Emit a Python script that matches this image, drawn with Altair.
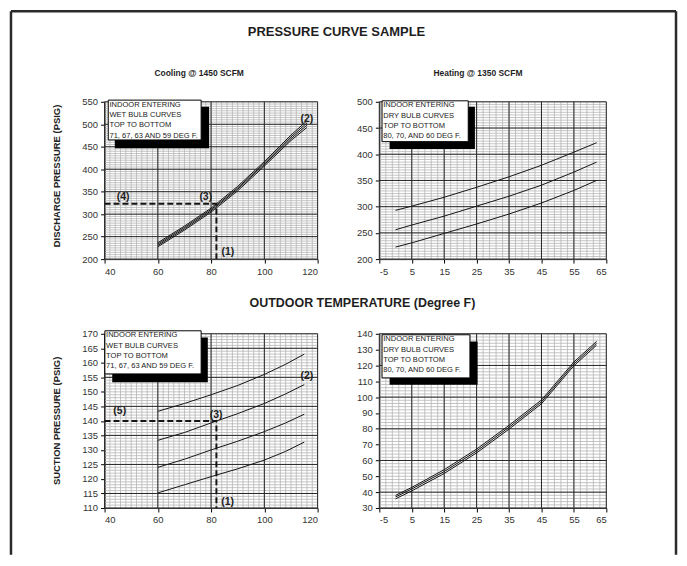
import altair as alt
import pandas as pd

FONT = "Liberation Sans"
INK = "#151515"

# ---------------- data ----------------
# Cooling, discharge pressure (wet bulb 71, 67, 63, 59 F)
cool_dis_x = [60, 70, 80, 90, 100, 110, 116]
cool_dis_71 = [236.5, 273.5, 313.5, 362, 417, 476, 508]
cool_dis_67 = [233.5, 270.5, 310.5, 358.5, 413.5, 472, 503]
cool_dis_63 = [230.5, 267.5, 307.5, 355.5, 410.5, 468, 498]
cool_dis_59 = [227.5, 264.5, 304.5, 352, 407, 464, 493]

# Cooling, suction pressure
cool_suc_x = [60, 70, 80, 90, 100, 108, 115]
cool_suc_71 = [143.3, 146, 149, 152.2, 156, 159.5, 163]
cool_suc_67 = [133.3, 136, 139.3, 142.5, 146, 149.3, 152.5]
cool_suc_63 = [124, 126.8, 130, 133, 136.3, 139.3, 142.3]
cool_suc_59 = [115.2, 118, 120.8, 123.5, 126.5, 129.5, 132.7]

# Heating (dry bulb 80, 70, 60 F)
heat_x = [0, 5, 15, 25, 35, 45, 55, 62]
heat_dis_80 = [293, 301, 318, 337, 357, 379, 404, 422]
heat_dis_70 = [256, 265, 282, 301, 320, 341, 366, 385]
heat_dis_60 = [223, 231, 249, 267, 286, 307, 331, 350]
heat_suc_80 = [38, 43, 54.2, 67.2, 82.2, 98.2, 122.2, 135.2]
heat_suc_70 = [37, 42, 53, 66, 81, 97, 121, 134]
heat_suc_60 = [35.8, 40.8, 51.8, 64.8, 79.8, 95.8, 119.8, 132.8]

# example read-off (dashed guides)
dis_guide_x = [40, 82, 82]
dis_guide_y = [323, 323, 200]
suc_guide_x = [40, 82, 82]
suc_guide_y = [140, 140, 110]

dis_notes = ["(4)", "(3)", "(2)", "(1)"]
dis_notes_x = [47, 78, 116, 86.3]
dis_notes_y = [339, 338, 512, 215]
suc_notes = ["(5)", "(3)", "(2)", "(1)"]
suc_notes_x = [45.7, 81.9, 116, 86.2]
suc_notes_y = [143.4, 141.9, 155.3, 112.2]

wet_box = ["INDOOR ENTERING", "WET BULB CURVES", "TOP TO BOTTOM", "71, 67, 63 AND 59 DEG F."]
dry_box = ["INDOOR ENTERING", "DRY BULB CURVES", "TOP TO BOTTOM", "80, 70, AND 60 DEG F."]

cool_ticks_x = [40, 60, 80, 100, 120]
heat_ticks_x = [-5, 5, 15, 25, 35, 45, 55, 65]
dis_cool_ticks_y = [200, 250, 300, 350, 400, 450, 500, 550]
dis_heat_ticks_y = [200, 250, 300, 350, 400, 450, 500]
suc_cool_ticks_y = list(range(110, 171, 5))
suc_heat_ticks_y = list(range(30, 141, 10))


def series_df(xs, named):
    rows = []
    for name, ys in named:
        for x, y in zip(xs, ys):
            rows.append({"s": name, "x": x, "y": y})
    return pd.DataFrame(rows)


def guide_df(xs, ys):
    return pd.DataFrame({"x": xs, "y": ys, "o": list(range(len(xs)))})


def panel(w, h, xdom, ydom, xticks, yticks, xminor, xmajor, yminor, ymajor,
          curves, box_lines, box_geom, ytitle=None, ytitle_y=0,
          guide=None, notes=None, extras=()):
    xs = alt.Scale(domain=xdom, nice=False, zero=False)
    ys = alt.Scale(domain=ydom, nice=False, zero=False)
    plain = "'' + datum.value"
    xaxis = alt.Axis(values=xticks, title=None, labelExpr=plain)
    if ytitle:
        yaxis = alt.Axis(values=yticks, title=ytitle, titleX=-48, titleY=ytitle_y,
                         titleAngle=270, titleAlign="center", titleBaseline="middle",
                         titleFont=FONT, titleFontSize=9.5, titleFontWeight="bold",
                         titleColor="#222", labelExpr=plain)
    else:
        yaxis = alt.Axis(values=yticks, title=None, labelExpr=plain)

    def X(f):
        return alt.X(f, scale=xs, axis=xaxis)

    def Y(f):
        return alt.Y(f, scale=ys, axis=yaxis)

    layers = []
    layers.append(alt.Chart(pd.DataFrame({"v": xminor})).mark_rule(
        color="#b5b5b5", strokeWidth=0.8).encode(x=X("v:Q")))
    layers.append(alt.Chart(pd.DataFrame({"v": yminor})).mark_rule(
        color="#b5b5b5", strokeWidth=0.8).encode(y=Y("v:Q")))
    layers.append(alt.Chart(pd.DataFrame({"v": xmajor})).mark_rule(
        color="#262626", strokeWidth=1).encode(x=X("v:Q")))
    layers.append(alt.Chart(pd.DataFrame({"v": ymajor})).mark_rule(
        color="#262626", strokeWidth=1).encode(y=Y("v:Q")))

    layers.append(alt.Chart(curves).mark_line(color=INK, strokeWidth=1).encode(
        x=X("x:Q"), y=Y("y:Q"), detail="s:N"))

    if guide is not None:
        layers.append(alt.Chart(guide).mark_line(
            color=INK, strokeWidth=2, strokeDash=[6, 3]).encode(
            x=X("x:Q"), y=Y("y:Q"), order="o:Q"))
    if notes is not None:
        layers.append(alt.Chart(notes).mark_text(
            font=FONT, fontSize=10.5, fontWeight="bold", color="#222").encode(
            x=X("x:Q"), y=Y("y:Q"), text="t:N"))

    bx0, bx1, by0, by1, sx0, sx1, sy0, sy1 = box_geom
    one = pd.DataFrame({"k": [0]})
    layers.append(alt.Chart(one).mark_rect(color="black").encode(
        x=alt.value(sx0), x2=alt.value(sx1), y=alt.value(sy0), y2=alt.value(sy1)))
    layers.append(alt.Chart(one).mark_rect(fill="white", stroke="black", strokeWidth=1).encode(
        x=alt.value(bx0), x2=alt.value(bx1), y=alt.value(by0), y2=alt.value(by1)))
    layers.append(alt.Chart(one).mark_text(
        align="left", baseline="top", font=FONT, fontSize=7.6, lineHeight=10.4,
        color="#222").encode(
        x=alt.value(bx0 + 1.2), y=alt.value(by0 + 0.6), text=alt.value(box_lines)))

    layers.extend(extras)
    return alt.layer(*layers).properties(width=w, height=h)


def text_at(txt, x, y, size, weight="bold"):
    return alt.Chart(pd.DataFrame({"t": [txt]})).mark_text(
        font=FONT, fontSize=size, fontWeight=weight, color="#1e1e1e",
        align="center", baseline="middle").encode(
        x=alt.value(x), y=alt.value(y), text="t:N")


one_row = pd.DataFrame({"k": [0]})
frame_style = dict(color="#2a2a2a", strokeWidth=2.5)
frame = [
    alt.Chart(one_row).mark_rule(**frame_style).encode(
        x=alt.value(-94), y=alt.value(-91), y2=alt.value(455)),
    alt.Chart(one_row).mark_rule(**frame_style).encode(
        x=alt.value(574), y=alt.value(-91), y2=alt.value(455)),
    alt.Chart(one_row).mark_rule(**frame_style).encode(
        x=alt.value(-94), x2=alt.value(574), y=alt.value(-91)),
]

tl = panel(
    214, 158, [40, 120], [200, 550], cool_ticks_x, dis_cool_ticks_y,
    list(range(40, 121, 2)), cool_ticks_x, list(range(200, 551, 5)), dis_cool_ticks_y,
    series_df(cool_dis_x, [("71", cool_dis_71), ("67", cool_dis_67),
                           ("63", cool_dis_63), ("59", cool_dis_59)]),
    wet_box, (3.7, 97, -1.7, 38.3, 10.3, 105, 5, 46.7),
    ytitle="DISCHARGE PRESSURE (PSIG)", ytitle_y=74,
    guide=guide_df(dis_guide_x, dis_guide_y),
    notes=pd.DataFrame({"t": dis_notes, "x": dis_notes_x, "y": dis_notes_y}),
    extras=frame + [
        text_at("PRESSURE CURVE SAMPLE", 233, -70, 13),
        text_at("Cooling @ 1450 SCFM", 95, -29, 8.5),
        text_at("OUTDOOR TEMPERATURE (Degree F)", 259, 202, 12.5),
    ],
)

tr = panel(
    228, 158, [-5, 65], [200, 500], heat_ticks_x, dis_heat_ticks_y,
    list(range(-5, 66, 2)), heat_ticks_x, list(range(200, 501, 5)), dis_heat_ticks_y,
    series_df(heat_x, [("80", heat_dis_80), ("70", heat_dis_70), ("60", heat_dis_60)]),
    dry_box, (2.7, 89.3, -1, 40, 10.3, 96, 5, 47.3),
    extras=[text_at("Heating @ 1350 SCFM", 99, -29, 8.5)],
)

bl = panel(
    214, 175, [40, 120], [110, 170], cool_ticks_x, suc_cool_ticks_y,
    list(range(40, 121, 2)), cool_ticks_x, list(range(110, 171, 1)),
    [110, 115, 125, 135, 145, 155, 165, 170],
    series_df(cool_suc_x, [("71", cool_suc_71), ("67", cool_suc_67),
                           ("63", cool_suc_63), ("59", cool_suc_59)]),
    wet_box, (0.3, 97, -3, 40.3, 7.7, 103.7, 3.7, 48.7),
    ytitle="SUCTION PRESSURE (PSIG)", ytitle_y=87,
    guide=guide_df(suc_guide_x, suc_guide_y),
    notes=pd.DataFrame({"t": suc_notes, "x": suc_notes_x, "y": suc_notes_y}),
)

br = panel(
    228, 175, [-5, 65], [30, 140], heat_ticks_x, suc_heat_ticks_y,
    list(range(-5, 66, 2)), heat_ticks_x, list(range(30, 141, 2)),
    [30, 40, 60, 80, 100, 120, 140],
    series_df(heat_x, [("80", heat_suc_80), ("70", heat_suc_70), ("60", heat_suc_60)]),
    dry_box, (2.7, 91, 1, 44.3, 10.3, 98.7, 7.7, 51.3),
)

chart = alt.concat(
    tl, tr, bl, br, columns=2, spacing={"row": 75, "column": 62},
    bounds="flush", align="each",
).properties(
    padding={"left": 1, "top": 0, "right": 1, "bottom": 1},
).configure_view(
    strokeWidth=0,
).configure_axis(
    grid=False, tickSize=4, labelPadding=3, domainColor="black", tickColor="black",
    domainWidth=1, tickWidth=1, labelColor="#333", labelFont=FONT, labelFontSize=9.5,
)

chart.save("out.html", embed_options={"renderer": "svg", "actions": False})
